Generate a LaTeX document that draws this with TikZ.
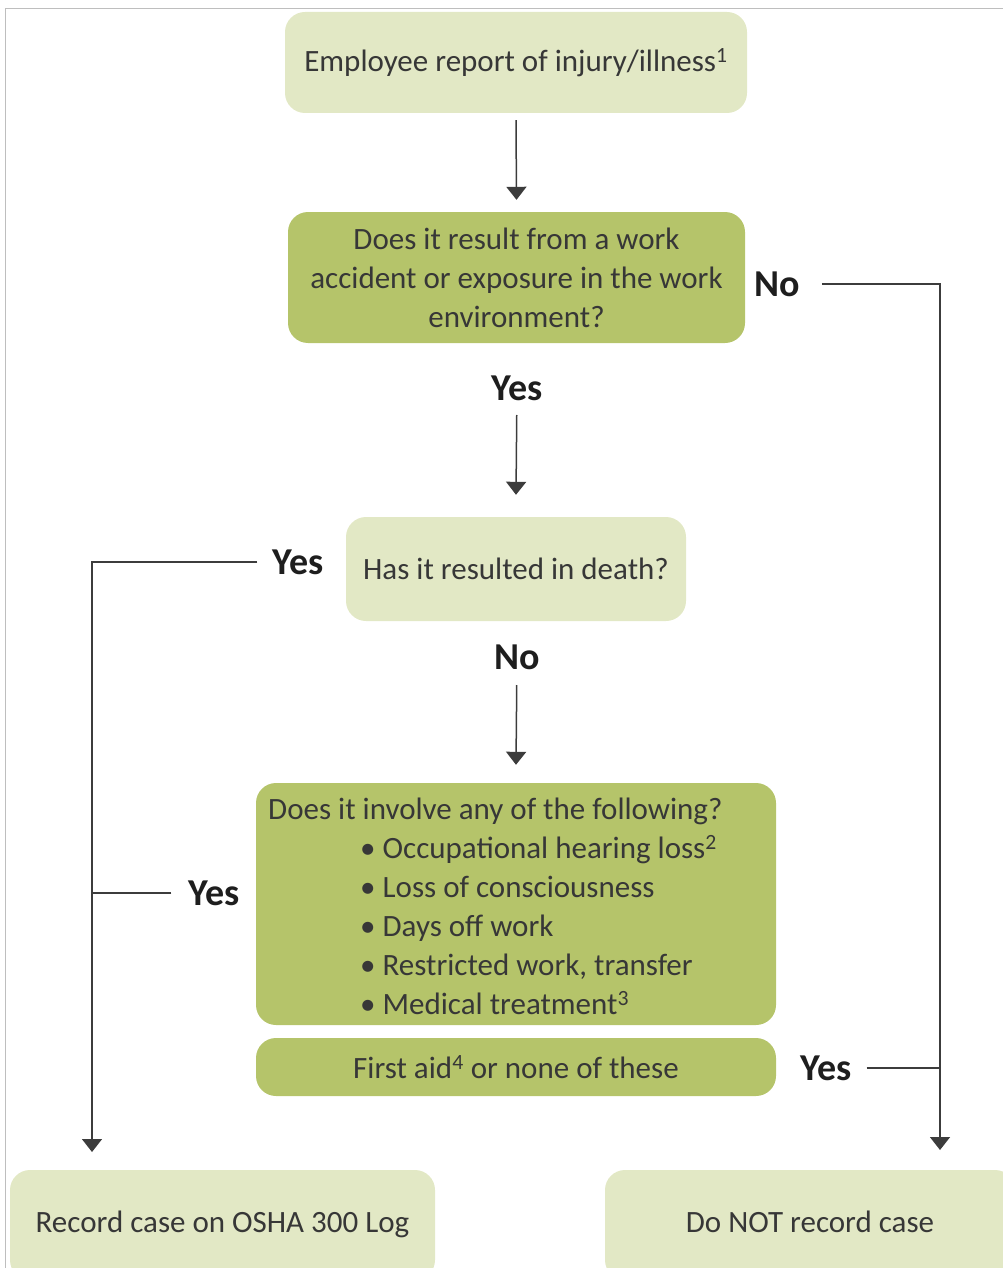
\documentclass[tikz,border=0pt]{standalone}
\usepackage{fontspec}
\setmainfont{Carlito}
\usetikzlibrary{arrows.meta}
\definecolor{lightbox}{RGB}{226,232,197}
\definecolor{darkbox}{RGB}{181,196,106}
\definecolor{txt}{RGB}{55,55,55}
\definecolor{lbl}{RGB}{30,30,30}
\definecolor{linecol}{RGB}{60,60,60}
\definecolor{framecol}{RGB}{190,190,190}
\tikzset{
  box/.style={rectangle, rounded corners=20pt, draw=none, text=txt, align=center,
    font=\fontsize{31}{39}\selectfont, inner sep=0pt},
  lightb/.style={box, fill=lightbox},
  darkb/.style={box, fill=darkbox},
  lab/.style={text=lbl, font=\fontsize{38}{40}\selectfont\bfseries, inner sep=0pt},
  conn/.style={draw=linecol, line width=1.5pt},
  arr/.style={conn, -{Triangle[width=20pt,length=13pt]}},
}
\begin{document}
\begin{tikzpicture}[x=1pt,y=-1pt]
\useasboundingbox (0,0) rectangle (1003,1268);
\clip (0,0) rectangle (1003,1268);
\draw[framecol, line width=1pt] (5,1268) -- (5,9) -- (1003,9);

\node[lightb, minimum width=462pt, minimum height=101pt] (top) at (516,62.5)
  {Employee report of injury/illness\textsuperscript{1}};
\node[darkb, minimum width=457pt, minimum height=131pt] (q1) at (516.5,277.5)
  {Does it result from a work\\accident or exposure in the work\\environment?};
\node[lightb, minimum width=340pt, minimum height=104pt] (q2) at (516,569)
  {Has it resulted in death?};
\node[darkb, minimum width=520pt, minimum height=242pt] (q3) at (516,904) {};
\node[box, fill=none, align=left, anchor=west] (q3text) at (268,906)
  {Does it involve any of the following?\\
   \hspace*{92pt}• Occupational hearing loss\textsuperscript{2}\\
   \hspace*{92pt}• Loss of consciousness\\
   \hspace*{92pt}• Days off work\\
   \hspace*{92pt}• Restricted work, transfer\\
   \hspace*{92pt}• Medical treatment\textsuperscript{3}};
\node[darkb, minimum width=520pt, minimum height=58pt] (q4) at (516,1067)
  {First aid\textsuperscript{4} or none of these};
\node[lightb, minimum width=425pt, minimum height=110pt, text height=22pt, text depth=7pt] (rec) at (222.5,1225)
  {Record case on OSHA 300 Log};
\node[lightb, minimum width=410pt, minimum height=110pt, text height=22pt, text depth=7pt] (norec) at (810,1225)
  {Do NOT record case};

\node[lab] (noA) at (777,284) {No};
\node[lab] (yesA) at (517,388) {Yes};
\node[lab] (yesB) at (298,562) {Yes};
\node[lab] (noB) at (517,657) {No};
\node[lab] (yesC) at (214,893) {Yes};
\node[lab] (yesD) at (826,1068) {Yes};

\coordinate (rtop) at (940,286);
\coordinate (rend) at (940,1150);
\coordinate (ltop) at (92,563);
\coordinate (lend) at (92,1152);

\draw[arr] ([yshift=-7pt]top.south) -- ([yshift=12pt]q1.north);
\draw[arr, shorten <=27pt] (yesA.center) -- ([yshift=22pt]q2.north);
\draw[arr, shorten <=28pt] (noB.center) -- ([yshift=18pt]q3.north);
\draw[arr] ([xshift=22pt]noA.east) -- (noA.east -| rtop) -- (rend);
\draw[conn] ([xshift=15pt]yesD.east) -- (yesD.east -| rtop);
\draw[arr] ([xshift=-15pt]yesB.west) -- (yesB.west -| ltop) -- (lend);
\draw[conn] ([xshift=-17pt]yesC.west) -- (yesC.west -| ltop);
\end{tikzpicture}
\end{document}
